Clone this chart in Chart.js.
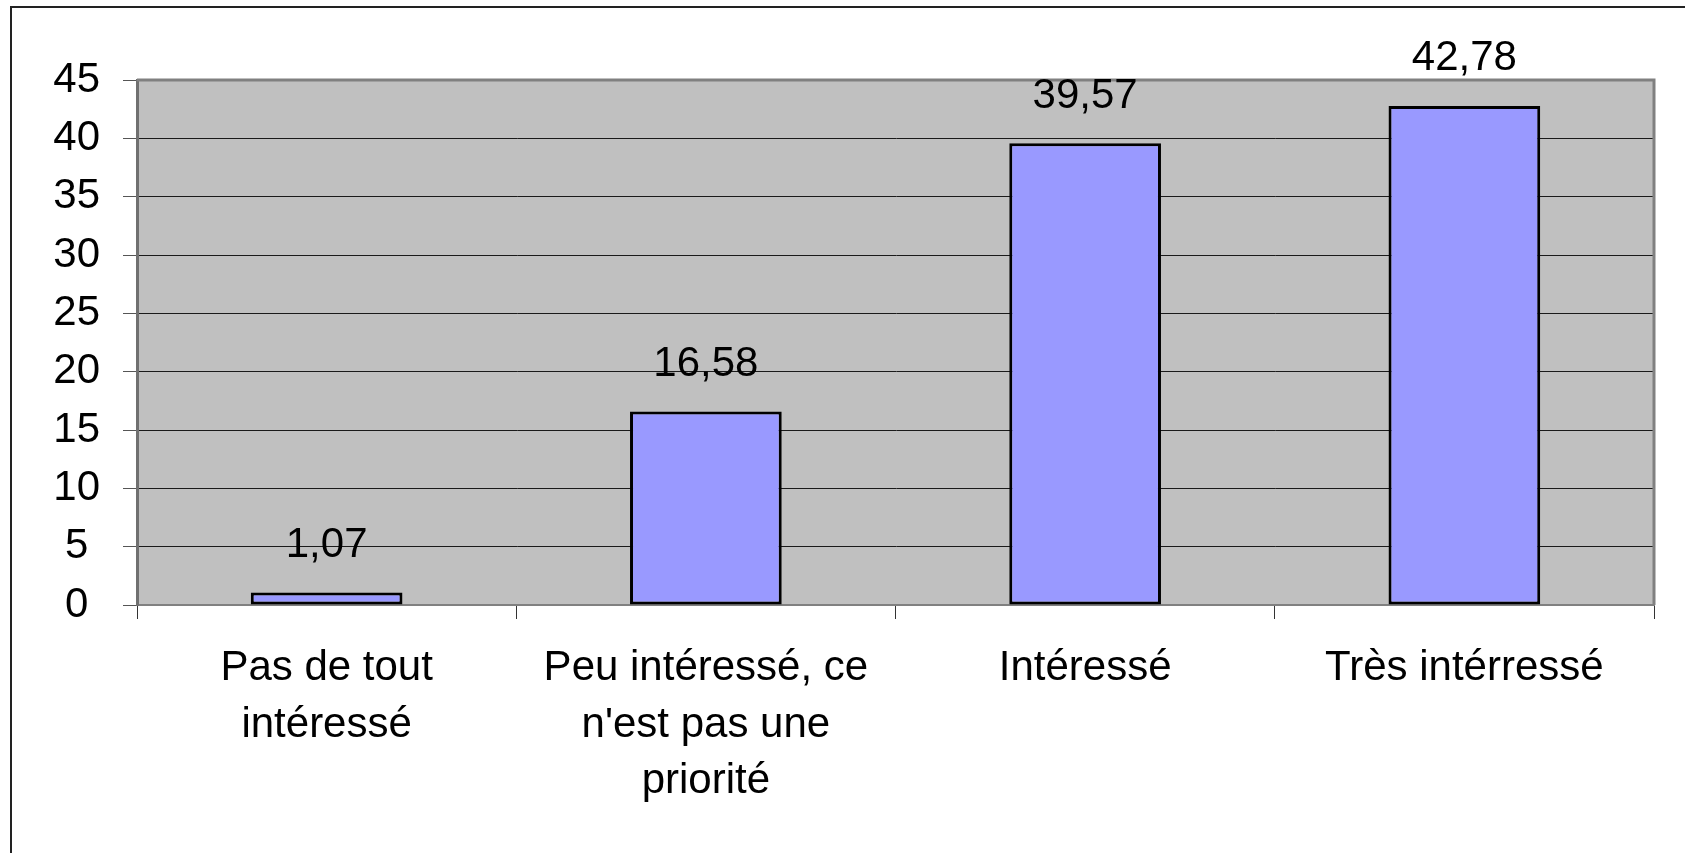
<!DOCTYPE html>
<html>
<head>
<meta charset="utf-8">
<script src="https://cdn.jsdelivr.net/npm/chart.js@4"></script>
<style>
  html, body { margin: 0; padding: 0; background: #fff; }
  #box { width: 1685px; height: 853px; position: relative; }
</style>
</head>
<body>
<div id="box"><canvas id="c"></canvas></div>
<script>
const categories = [
  ["Pas de tout", "intéressé"],
  ["Peu intéressé, ce", "n'est pas une", "priorité"],
  ["Intéressé"],
  ["Très intérressé"]
];
const values = [1.07, 16.58, 39.57, 42.78];
const yTicks = [0, 5, 10, 15, 20, 25, 30, 35, 40, 45];

const FONT = "'Liberation Sans', Arial, sans-serif";

// fond gris de la zone de tracé + cadre extérieur
const background = {
  id: "background",
  beforeDraw(chart) {
    const { ctx, chartArea: a } = chart;
    ctx.save();
    ctx.fillStyle = "#fff";
    ctx.fillRect(0, 0, chart.width, chart.height);
    ctx.strokeStyle = "#222";
    ctx.lineWidth = 2;
    ctx.beginPath();
    ctx.moveTo(chart.width, 7);
    ctx.lineTo(11, 7);
    ctx.lineTo(11, chart.height);
    ctx.stroke();
    ctx.fillStyle = "#c0c0c0";
    ctx.fillRect(a.left, a.top, a.right - a.left, a.bottom - a.top);
    ctx.restore();
  },
  beforeDatasetsDraw(chart) {
    const { ctx, chartArea: a } = chart;
    ctx.save();
    ctx.strokeStyle = "#808080";
    ctx.lineWidth = 3;
    ctx.beginPath();
    ctx.moveTo(a.left, a.top);
    ctx.lineTo(a.right, a.top);
    ctx.lineTo(a.right, a.bottom);
    ctx.stroke();
    ctx.restore();
  }
};

// valeurs au-dessus des barres
const valueLabels = {
  id: "valueLabels",
  afterDatasetsDraw(chart) {
    const { ctx } = chart;
    const meta = chart.getDatasetMeta(0);
    ctx.save();
    ctx.font = "42px " + FONT;
    ctx.fillStyle = "#000";
    ctx.textAlign = "center";
    ctx.textBaseline = "middle";
    meta.data.forEach((bar, i) => {
      const txt = values[i].toFixed(2).replace(".", ",");
      ctx.fillText(txt, bar.x, bar.y - 47);
    });
    ctx.restore();
  }
};

new Chart(document.getElementById("c"), {
  type: "bar",
  data: {
    labels: categories,
    datasets: [{
      data: values,
      backgroundColor: "#9999ff",
      borderColor: "#000",
      borderWidth: 3,
      borderSkipped: false,
      barPercentage: 0.4,
      categoryPercentage: 1
    }]
  },
  options: {
    responsive: true,
    maintainAspectRatio: false,
    animation: false,
    layout: { padding: { top: 80, right: 31, left: 0, bottom: 0 } },
    plugins: {
      legend: { display: false },
      tooltip: { enabled: false }
    },
    scales: {
      x: {
        offset: true,
        afterFit: s => { s.height = 248; },
        grid: {
          offset: true,
          drawOnChartArea: false,
          drawTicks: true,
          tickLength: 14,
          tickColor: "#333"
        },
        border: { color: "#808080", width: 2 },
        ticks: {
          color: "#000",
          padding: 21,
          maxRotation: 0,
          autoSkip: false,
          font: { family: FONT, size: 42, lineHeight: 1.35 }
        }
      },
      y: {
        min: 0,
        max: 45,
        afterFit: s => { s.width = 137; },
        afterBuildTicks: s => { s.ticks = yTicks.map(v => ({ value: v })); },
        grid: {
          color: "#1a1a1a",
          lineWidth: 1,
          tickLength: 14,
          tickColor: "#555"
        },
        border: { color: "#707070", width: 3 },
        ticks: {
          color: "#000",
          padding: 23,
          crossAlign: "center",
          font: { family: FONT, size: 42 }
        }
      }
    }
  },
  plugins: [background, valueLabels]
});
</script>
</body>
</html>
